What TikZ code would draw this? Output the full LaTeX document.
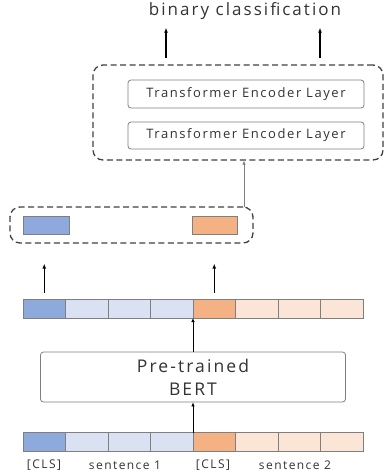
\documentclass[tikz,border=0pt]{standalone}
\usepackage{fontspec}
\setmainfont{Open Sans}[LetterSpace=12]
\usetikzlibrary{arrows.meta,positioning}

\definecolor{clsblue}{HTML}{8EA9DB}
\definecolor{tokblue}{HTML}{D9E1F2}
\definecolor{clsorange}{HTML}{F4B183}
\definecolor{tokorange}{HTML}{FBE5D6}
\definecolor{edgegray}{HTML}{7F7F7F}
\definecolor{dashgray}{HTML}{404040}
\definecolor{txtgray}{HTML}{333333}

\begin{document}
\begin{tikzpicture}[x=1pt,y=-1pt,
    cell/.style={draw=edgegray, line width=1pt, minimum width=42.5pt, minimum height=19pt, inner sep=0pt, outer sep=0pt},
    layer/.style={draw=edgegray, line width=0.8pt, rounded corners=3pt, fill=white, inner sep=0pt, text=txtgray, align=center},
    group/.style={draw=dashgray, line width=1.3pt, dash pattern=on 6pt off 3.5pt, rounded corners=10pt, inner sep=0pt},
    uparrow/.style={-{Latex[length=5pt,width=4pt]}, line width=1.2pt, black},
    feed/.style={-{Latex[length=4pt,width=3.5pt]}, line width=0.7pt, black},
    label/.style={text=txtgray, inner sep=0pt, font=\fontsize{12}{14}\selectfont}
    ]
    \useasboundingbox (0,0) rectangle (386,474);

    \foreach \i/\c in {1/clsblue,2/tokblue,3/tokblue,4/tokblue,5/clsorange,6/tokorange,7/tokorange,8/tokorange} {
        \node[cell, fill=\c] (b\i) at ({23+42.5*(\i-0.5)}, 442) {};
        \node[cell, fill=\c] (m\i) at ({23+42.5*(\i-0.5)}, 308.5) {};
    }

    \node[label] (cls1) at (44,465) {[CLS]};
    \node[label] (sent1) at (125,465) {sentence 1};
    \node[label] (cls2) at (213,465) {[CLS]};
    \node[label] (sent2) at (295,465) {sentence 2};

    \node[layer, minimum width=305pt, minimum height=50pt, font=\fontsize{17.5}{23}\selectfont] (bert) at (193,377) {Pre-trained\\BERT};

    \draw[feed] (b5.north west) -- (b5.north west |- bert.south);
    \draw[feed] (bert.north) -- (bert.north |- m5.south west);

    \node[group, minimum width=243pt, minimum height=36pt] (pool) at (131.5,225) {};
    \node[cell, fill=clsblue, minimum width=46pt, minimum height=18pt] (hcls1) at (46,225) {};
    \node[cell, fill=clsorange, minimum width=45pt, minimum height=18pt] (hcls2) at (214.5,225) {};

    \draw[uparrow, shorten <=6pt, shorten >=20pt] (m1.north) -- (m1.north |- pool.south);
    \draw[uparrow, shorten <=6pt, shorten >=20pt] (m5.north) -- (m5.north |- pool.south);

    \node[group, minimum width=290pt, minimum height=95pt] (enc) at (238,112.5) {};
    \node[layer, minimum width=236pt, minimum height=28pt, font=\fontsize{13}{15}\selectfont] (tel1) at (246,94) {Transformer Encoder Layer};
    \node[layer, minimum width=236pt, minimum height=27pt, font=\fontsize{13}{15}\selectfont] (tel2) at (246,135.5) {Transformer Encoder Layer};

    \coordinate (poolout) at (244,207);
    \draw[feed, edgegray] (poolout) -- (poolout |- enc.south);

    \node[text=txtgray, inner sep=0pt, font=\fontsize{17}{19}\selectfont] (task) at (245,11) {binary classification};
    \coordinate (out1) at (166,65);
    \coordinate (out2) at (320,65);
    \draw[uparrow, shorten <=7pt, shorten >=8pt] (out1) -- (out1 |- task.south);
    \draw[uparrow, shorten <=7pt, shorten >=8pt] (out2) -- (out2 |- task.south);
\end{tikzpicture}
\end{document}
